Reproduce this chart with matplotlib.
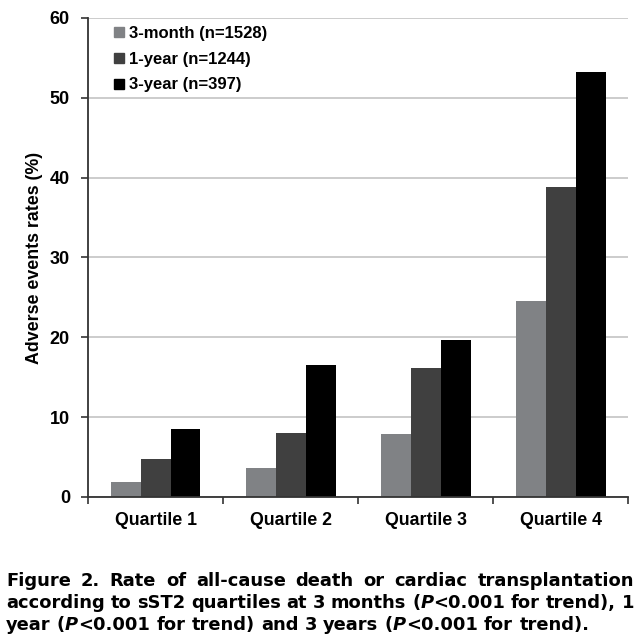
import numpy as np
import matplotlib.pyplot as plt
from matplotlib.lines import Line2D

# data
quartiles = ['Quartile 1', 'Quartile 2', 'Quartile 3', 'Quartile 4']
series = ['3-month (n=1528)', '1-year (n=1244)', '3-year (n=397)']
rate_3m = [1.9, 3.6, 7.9, 24.6]
rate_1y = [4.8, 8.0, 16.2, 38.8]
rate_3y = [8.5, 16.5, 19.7, 53.2]
yticks = [0, 10, 20, 30, 40, 50, 60]
colors = ['#808285', '#404040', '#000000']

# *...* marks italic runs
caption = [
    "Figure 2. Rate of all-cause death or cardiac transplantation",
    "according to sST2 quartiles at 3 months (*P*<0.001 for trend), 1",
    "year (*P*<0.001 for trend) and 3 years (*P*<0.001 for trend).",
]

plt.rcParams['font.family'] = ['Liberation Sans', 'DejaVu Sans']

fig = plt.figure(figsize=(6.4, 6.42), dpi=100)
ax = fig.add_axes([0.1375, 0.226, 0.844, 0.746])

x = np.arange(len(quartiles))
w = 0.222
for i, vals in enumerate([rate_3m, rate_1y, rate_3y]):
    ax.bar(x + (i - 1) * w, vals, w, color=colors[i], label=series[i], zorder=2)

ax.set_xlim(-0.5, len(quartiles) - 0.5)
ax.set_ylim(0, 60)
ax.set_yticks(yticks)
ax.set_yticklabels([str(v) for v in yticks], fontsize=13, fontweight='bold')
ax.set_xticks(np.arange(-0.5, len(quartiles), 1))
ax.set_xticklabels([])
ax.set_xticks(x, minor=True)
ax.set_xticklabels(quartiles, minor=True, fontsize=12.8, fontweight='bold')
ax.tick_params(axis='x', which='minor', length=0, pad=11)
ax.tick_params(axis='x', which='major', length=5, width=1.2, color='#333333')
ax.tick_params(axis='y', length=5, width=1.2, color='#333333', pad=8)
ax.yaxis.grid(True, color='#c4c4c4', lw=1.2)
ax.set_axisbelow(True)
for s in ['top', 'right']:
    ax.spines[s].set_visible(False)
for s in ['left', 'bottom']:
    ax.spines[s].set_color('#333333')
    ax.spines[s].set_linewidth(1.3)

ax.set_ylabel('Adverse events rates (%)', fontsize=12.8, fontweight='bold', labelpad=5)

handles = [Line2D([], [], marker='s', ls='', color=c, markersize=6.5) for c in colors]
ax.legend(handles, series, loc='upper left', bbox_to_anchor=(0.015, 1.015), frameon=False,
          prop={'weight': 'bold', 'size': 12}, handletextpad=0.05, labelspacing=0.65,
          handlelength=1.0)

# caption, justified like the journal layout
cap_font = dict(family='DejaVu Sans', weight='bold', size=12.9)
renderer = fig.canvas.get_renderer()
fig_w = fig.get_figwidth() * fig.dpi
left, right = 6 / fig_w, 634 / fig_w


def width_of(t):
    return t.get_window_extent(renderer=renderer).width / fig_w


probe_a = fig.text(0, 0, 'a a', **cap_font)
probe_b = fig.text(0, 0, 'aa', **cap_font)
space = width_of(probe_a) - width_of(probe_b)
probe_a.remove()
probe_b.remove()

line_y = [1 - 586 / 642, 1 - 608 / 642, 1 - 630 / 642]
for li, line in enumerate(caption):
    words = []
    for word in line.split(' '):
        segs = []
        for k, part in enumerate(word.split('*')):
            if part:
                t = fig.text(0, line_y[li], part, style='italic' if k % 2 else 'normal',
                             va='baseline', ha='left', **cap_font)
                segs.append(t)
        words.append(segs)
    widths = [sum(width_of(t) for t in segs) for segs in words]
    if li < len(caption) - 1:
        gap = (right - left - sum(widths)) / (len(words) - 1)
    else:
        gap = space
    pos = left
    for segs, wd in zip(words, widths):
        p = pos
        for t in segs:
            t.set_x(p)
            p += width_of(t)
        pos += wd + gap

fig.savefig('out.png', dpi=100)
